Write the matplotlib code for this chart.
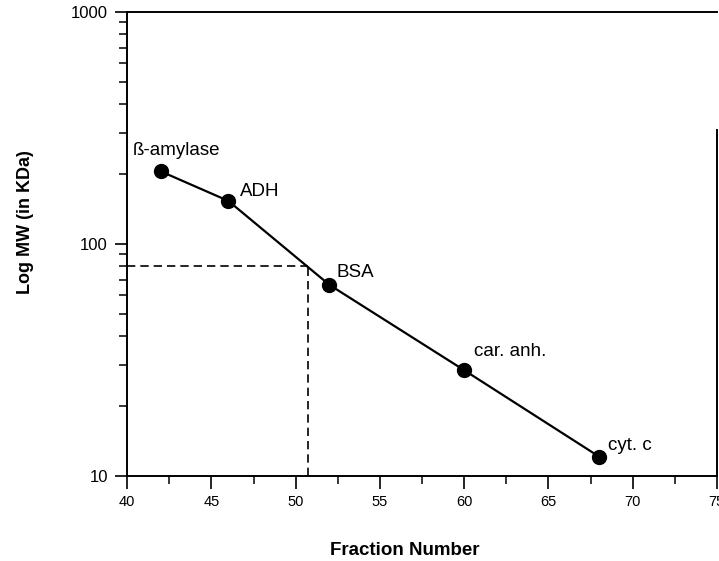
import matplotlib.pyplot as plt

plt.rcParams['font.family'] = ['Liberation Sans', 'DejaVu Sans']

# standards run on the column
proteins = ["ß-amylase", "ADH", "BSA", "car. anh.", "cyt. c"]
fraction = [42, 46, 52, 60, 68]
mw_kda = [205, 153, 66.5, 28.5, 12.1]
# label offsets (points) from each marker to the text baseline
label_dx = [-20, 8.6, 5, 7.2, 6.5]
label_dy = [12, 3.6, 5.8, 10, 5]

# unknown
unknown_fraction = 50.7
unknown_mw = 80

fig = plt.figure(figsize=(7.19, 5.61), dpi=100)
ax = fig.add_axes([0.177, 0.152, 0.82, 0.827])

ax.plot(fraction, mw_kda, color="black", lw=1.6, marker="o", ms=10, zorder=3)
for name, x, y, dx, dy in zip(proteins, fraction, mw_kda, label_dx, label_dy):
    ax.annotate(name, (x, y), xytext=(dx, dy), textcoords="offset points",
                ha="left", va="baseline", fontsize=13.5)

ax.plot([40, unknown_fraction], [unknown_mw, unknown_mw], color="black",
        lw=1.2, dashes=(5, 3))
ax.plot([unknown_fraction, unknown_fraction], [10, unknown_mw], color="black",
        lw=1.2, dashes=(5, 3))

ax.set_yscale("log")
ax.set_xlim(40, 75)
ax.set_ylim(10, 1000)
ax.set_xticks(range(40, 76, 5))
ax.set_xticks([x + 2.5 for x in range(40, 75, 5)], minor=True)
ax.set_yticks([10, 100, 1000])
ax.set_yticklabels(["10", "100", "1000"])

ax.tick_params(axis="both", which="major", direction="out", length=9, width=1.2,
               labelsize=10.5, color="black")
ax.tick_params(axis="both", which="minor", direction="out", length=5.5, width=1.1)
ax.tick_params(axis="x", pad=5)
ax.tick_params(axis="y", labelsize=12, pad=5)
for side in ["left", "bottom", "top", "right"]:
    ax.spines[side].set_linewidth(1.4)
ax.spines["right"].set_bounds(10, 310)

ax.set_xlabel("Fraction Number", fontsize=13.5, fontweight="bold", va="center")
ax.set_ylabel("Log MW (in KDa)", fontsize=13, fontweight="bold", va="center")
ax.xaxis.set_label_coords(0.471, -0.162)
ax.yaxis.set_label_coords(-0.173, 0.547)

fig.savefig("out.png", dpi=100)
